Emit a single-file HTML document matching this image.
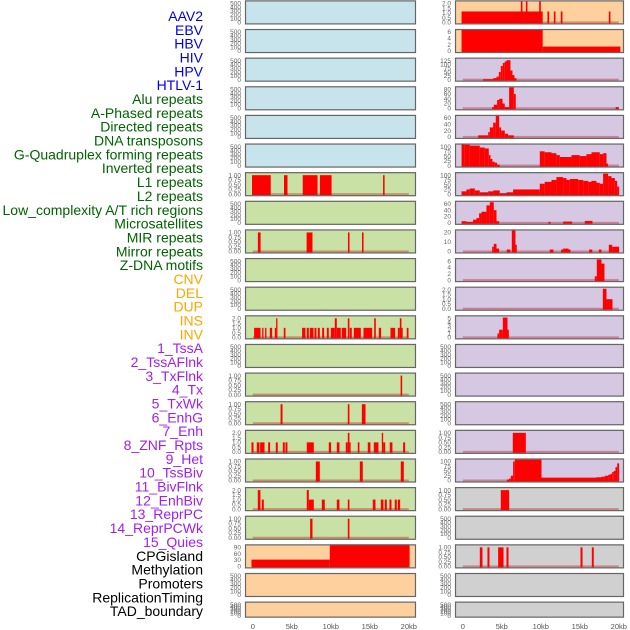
<!DOCTYPE html>
<html><head><meta charset="utf-8"><style>
body{margin:0;background:#fff;width:630px;height:630px;overflow:hidden;font-family:"Liberation Sans",sans-serif}
svg{display:block}
</style></head><body>
<svg id="chart" width="630" height="630" viewBox="0 0 630 630" xmlns="http://www.w3.org/2000/svg">
<g id="labels"></g>
<g id="panels"></g>
<g id="xaxis"></g>
</svg>
<script>
const NS="http://www.w3.org/2000/svg";
const trackLabels=["AAV2","EBV","HBV","HIV","HPV","HTLV-1","Alu repeats","A-Phased repeats","Directed repeats","DNA transposons","G-Quadruplex forming repeats","Inverted repeats","L1 repeats","L2 repeats","Low_complexity A/T rich regions","Microsatellites","MIR repeats","Mirror repeats","Z-DNA motifs","CNV","DEL","DUP","INS","INV","1_TssA","2_TssAFlnk","3_TxFlnk","4_Tx","5_TxWk","6_EnhG","7_Enh","8_ZNF_Rpts","9_Het","10_TssBiv","11_BivFlnk","12_EnhBiv","13_ReprPC","14_ReprPCWk","15_Quies","CPGisland","Methylation","Promoters","ReplicationTiming","TAD_boundary"];
const labelGroups=[6,13,5,15,5];
const groupColors=["#0000ee","#006400","#ffa500","#a020f0","#000000"];
const xTicks=[0,5,10,15,20];
const xTickLabels=["0","5kb","10kb","15kb","20kb"];

const ticksEmpty=[0,100,200,300,400,500];
const ticks01=[0,0.25,0.5,0.75,1];
const ticks02=[0,0.5,1,1.5,2];

// left column data: [startKb,endKb,value]
const L6=[[-0.1,2.3,1],[4.0,4.45,1],[6.4,8.3,1],[8.6,10.1,1],[16.7,16.9,1]];
const L8=[[0.65,1.0,1],[6.9,7.65,1],[12.2,12.4,1],[14.0,14.2,1]];
const L11=[[0.17,0.99,1],[1.2,1.37,1],[1.58,1.75,1],[2.18,2.48,1],[2.82,2.99,1],[2.99,3.16,2],[3.97,4.19,1],[6.32,6.75,1],[6.92,7.18,1],[7.31,7.78,1],[7.91,8.16,1],[8.33,8.59,1],[8.89,9.15,1],[9.49,9.74,1],[10.0,10.51,1],[10.51,10.77,2],[10.77,11.28,1],[11.41,11.97,1],[12.18,12.39,2],[12.44,12.69,1],[12.95,13.85,1],[14.19,15.3,1],[15.56,15.77,2],[16.15,16.45,1],[17.65,18.25,1],[18.59,18.85,1],[18.85,19.06,2],[19.06,19.15,1],[19.74,19.96,1]];
const L13=[[18.95,19.15,1]];
const L14=[[3.56,3.81,1],[12.18,12.39,1],[13.98,14.45,1]];
const L15=[[-0.17,0.09,1],[0.51,0.85,1],[0.94,1.5,1],[1.97,2.22,1],[2.95,3.2,1],[3.85,4.1,1],[4.19,4.44,1],[6.92,7.82,1],[9.74,10.04,1],[10.77,11.11,1],[11.92,12.18,1],[12.18,12.39,2],[12.39,12.52,1],[13.46,13.67,1],[14.74,15.08,1],[15.51,16.11,1],[16.54,16.71,2],[16.71,16.97,1],[17.56,17.9,1],[19.27,19.53,1]];
const L16=[[8.08,8.59,1],[13.72,14.1,1],[18.97,19.36,1]];
const L17=[[0.64,0.98,2],[1.15,1.41,1],[6.92,7.18,2],[7.18,7.82,1],[8.85,9.23,1],[10.77,11.11,1],[12.18,12.39,1],[15.38,15.73,1],[16.41,16.75,1],[16.92,17.18,1],[17.52,17.78,1],[18.2,18.46,1],[18.59,18.89,1]];
const L18=[[7.35,7.65,1],[12.18,12.39,1]];
const L19=[[-0.17,9.87,32],[9.87,20.1,108]];

// right column data
const R0=[[-0.16,10.24,1.15],[7.44,7.65,2.2],[8.08,8.29,2.2],[9.79,10.0,2.2],[10.85,11.07,1.15],[11.67,11.88,1.15],[12.56,12.78,1.15],[18.72,18.93,1.15]];
const R1=[[-0.16,10.24,7.2],[10.24,20.2,1.4]];
const R2=[[2.6,3.89,3],[3.89,4.32,10],[4.32,4.62,20],[4.62,4.87,50],[4.87,5.13,90],[5.13,5.38,110],[5.38,5.6,120],[5.6,6.11,128],[6.11,6.37,60],[6.37,6.62,30],[6.62,6.88,10]];
const R3=[[3.76,3.97,5],[3.97,4.4,15],[4.4,4.66,35],[4.66,5.09,40],[5.09,5.38,20],[5.38,5.94,5],[5.94,6.54,88],[6.54,6.79,60],[19.6,20.0,5]];
const R4=[[1.97,3.25,5],[3.25,3.46,15],[3.46,3.89,30],[3.89,4.23,45],[4.23,4.66,75],[4.66,4.91,30],[4.91,5.38,20],[5.38,5.81,10],[5.81,6.54,5]];
const R5=[[-0.16,0.26,125],[0.26,0.9,110],[0.9,2.18,105],[2.18,2.82,95],[2.82,3.33,90],[3.33,3.55,55],[3.55,3.8,35],[3.8,4.1,20],[4.1,4.4,15],[4.4,4.74,5],[9.87,10.5,75],[10.5,11.37,70],[11.37,12.0,65],[12.0,12.44,55],[12.44,13.93,45],[13.93,15.0,55],[15.0,15.85,50],[15.85,16.5,60],[16.5,17.56,70],[17.56,17.99,60],[17.99,18.42,65],[18.42,18.63,10]];
const R6=[[-0.16,0.47,15],[0.47,0.9,25],[0.9,1.54,30],[1.54,2.18,20],[2.18,3.25,10],[3.25,3.89,15],[3.89,4.74,20],[4.74,5.6,5],[5.6,6.45,10],[6.45,9.87,25],[9.87,10.5,55],[10.5,11.37,65],[11.37,12.0,75],[12.0,12.86,90],[12.86,13.29,85],[13.29,13.72,75],[13.72,14.79,80],[14.79,15.43,75],[15.43,16.07,70],[16.07,16.5,65],[16.5,17.14,70],[17.14,17.56,60],[17.56,17.99,55],[17.99,18.63,108],[18.63,19.06,95],[19.06,19.49,85],[19.49,19.79,70],[19.79,20.04,40]];
const R7=[[-0.16,0.47,5],[0.47,1.32,3],[1.32,1.75,10],[1.75,2.09,15],[2.09,2.39,30],[2.39,3.03,35],[3.03,3.46,55],[3.46,3.97,65],[3.97,4.32,40],[4.32,4.66,5],[10.98,11.24,3],[12.86,14.02,4],[15.64,16.62,6]];
const R8=[[3.76,3.97,5],[3.97,4.32,8],[4.32,4.66,3],[5.64,6.11,2],[6.28,6.75,32],[6.75,6.92,7],[11.15,11.62,2],[12.6,12.86,2],[12.86,13.55,3],[13.55,13.8,2],[16.2,16.6,2],[17.44,17.78,2],[18.72,19.15,7],[19.15,20.04,5]];
const R9=[[16.92,17.18,1.2],[17.18,17.78,6.5],[17.78,18.16,5.2]];
const R10=[[17.95,18.42,2.1],[18.42,19.19,1.0]];
const R11=[[4.44,4.66,1],[4.66,5.13,2],[5.13,5.73,5.2],[5.73,5.9,2]];
const R15=[[6.41,8.08,1]];
const R16=[[5.64,5.9,5],[5.9,6.15,10],[6.15,6.45,25],[6.45,6.66,100],[6.66,10.09,110],[10.09,17.14,15],[17.14,17.78,17],[17.78,18.21,20],[18.21,18.63,25],[18.63,18.93,30],[18.93,19.15,35],[19.15,19.36,45],[19.36,19.57,50],[19.57,19.79,70],[19.79,20.04,90]];
const R17=[[4.87,5.94,1]];
const R19=[[2.18,2.52,1],[3.16,3.42,1],[4.53,5.22,1],[5.6,5.86,1],[15.09,15.35,1],[16.54,16.79,1]];

const C={blue:"#c7e4ec",green:"#c9e1a4",orange:"#fed09e",lav:"#d6c7e3",gray:"#d0d0d0"};
function leftSpec(i){
  const bg=i<6?C.blue:(i<19?C.green:C.orange);
  const m={6:[L6,ticks01,2],8:[L8,ticks01,2],11:[L11,ticks02,1],13:[L13,ticks01,2],14:[L14,ticks01,2],15:[L15,ticks02,1],16:[L16,ticks01,2],17:[L17,ticks02,1],18:[L18,ticks01,2],19:[L19,[0,30,60,90],0]};
  return m[i]?{bg,data:m[i][0],ticks:m[i][1],dec:m[i][2]}:{bg,data:null,ticks:ticksEmpty,dec:0};
}
function rightSpec(i){
  const bg=i<2?C.orange:(i<17?C.lav:C.gray);
  const m={0:[R0,ticks02,1],1:[R1,[0,2,4,6],0],2:[R2,[0,25,50,75,100,125],0],3:[R3,[0,20,40,60,80],0],4:[R4,[0,20,40,60],0],5:[R5,[0,25,50,75,100],0],6:[R6,[0,25,50,75,100],0],7:[R7,[0,20,40,60],0],8:[R8,[0,10,20],0],9:[R9,[0,2,4,6],0],10:[R10,ticks02,1],11:[R11,[0,1,2,3,4,5],0],15:[R15,ticks01,2],16:[R16,[0,25,50,75,100],0],17:[R17,ticks01,2],19:[R19,ticks01,2]};
  return m[i]?{bg,data:m[i][0],ticks:m[i][1],dec:m[i][2]}:{bg,data:null,ticks:ticksEmpty,dec:0};
}
function mk(tag,attrs,parent){const e=document.createElementNS(NS,tag);for(const k in attrs)e.setAttribute(k,attrs[k]);parent.appendChild(e);return e;}

// labels
const lg=document.getElementById('labels');
let gi=0,cnt=0;
trackLabels.forEach((t,j)=>{
  while(cnt>=labelGroups[gi]){cnt=0;gi++;}
  cnt++;
  const tx=mk('text',{x:203,y:16+j*13.84+5,'text-anchor':'end','font-size':'14',fill:groupColors[gi]},lg);
  
  
  tx.textContent=t;
});

const pg=document.getElementById('panels');
const cols=[{x0:245,x1:416,spec:leftSpec,name:'left'},{x0:455,x1:624,spec:rightSpec,name:'right'}];
function xs(col,kb){return col.x0+7.8+kb*7.8;}
let clipId=0;
cols.forEach(col=>{
  for(let i=0;i<22;i++){
    const T=0.4+i*28.63, H=(i===21?16:24), B=T+H;
    const s=col.spec(i);
    const g=mk('g',{},pg);
    
    
    mk('rect',{x:col.x0,y:T,width:col.x1-col.x0,height:H,fill:s.bg},g);
    const maxT=s.ticks[s.ticks.length-1];
    const ys=v=>(B-2)-v/maxT*(H-5);
    // ticks
    s.ticks.forEach(v=>{
      const tl=mk('text',{x:col.x0-4,y:ys(v)+2.2,'text-anchor':'end','font-size':'6.5',fill:'#666'},g);
      
      
      tl.textContent=s.dec?v.toFixed(s.dec):String(v);
    });
    if(s.data){
      const cid='c'+(clipId++);
      const cp=mk('clipPath',{id:cid},g);
      mk('rect',{x:col.x0,y:T,width:col.x1-col.x0,height:H},cp);
      const bg2=mk('g',{'clip-path':'url(#'+cid+')'},g);
      mk('rect',{x:xs(col,0),y:ys(0)-1,width:xs(col,20)-xs(col,0),height:2,fill:'rgba(190,0,0,0.35)'},bg2);
      s.data.forEach(d=>{
        const x=xs(col,d[0]),w=Math.max(1.2,xs(col,d[1])-x),y=ys(d[2]);
        const r=mk('rect',{x:x,y:y,width:w,height:ys(0)-y+1,fill:'#ff0000'},bg2);
        
        
      });
    }
    mk('rect',{x:col.x0+0.5,y:T+0.5,width:col.x1-col.x0-1,height:H-1,fill:'none',stroke:'#666',"stroke-width":1.2},g);
  }
});
const xg=document.getElementById('xaxis');
cols.forEach(col=>{
  xTicks.forEach((k,j)=>{
    const t=mk('text',{x:xs(col,k),y:629,'text-anchor':'middle','font-size':'7.5',fill:'#555'},xg);
    
    
    t.textContent=xTickLabels[j];
  });
});
</script>
</body></html>
